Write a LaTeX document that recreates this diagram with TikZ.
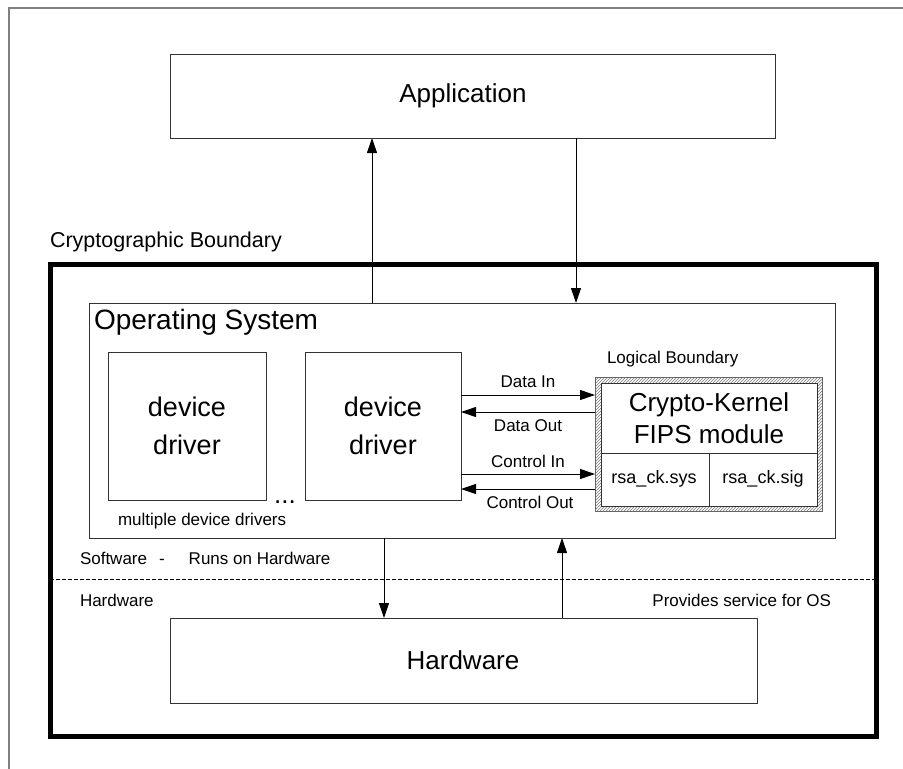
\documentclass[tikz,border=0pt]{standalone}
\usepackage{fontspec}
\setmainfont{Liberation Sans}
\usetikzlibrary{arrows.meta,patterns,calc}
\begin{document}
\begin{tikzpicture}[x=1pt,y=-1pt,
  box/.style={draw=black!80,line width=1pt,inner sep=0pt,outer sep=0pt,anchor=north west,align=center},
  big/.style={font=\fontsize{26}{32}\selectfont},
  mid/.style={font=\fontsize{21.5}{25}\selectfont},
  small/.style={font=\fontsize{17}{20}\selectfont},
  lbl/.style={inner sep=0pt,outer sep=0pt},
  arr/.style={draw=black,line width=1pt,-{Triangle[length=15pt,width=10pt]}},
]
\useasboundingbox (0,0) rectangle (903,769);
% outer frame (top and left edges only)
\draw[gray,line width=2pt] (9,769) -- (9,8) -- (903,8);

% application
\node[box,minimum width=605pt,minimum height=84pt] (app) at (170,54) {};
\node[lbl,big] (appl) at (463,96) {Application};

% cryptographic boundary
\node[lbl,mid,anchor=west] (cbl) at (50,242) {Cryptographic Boundary};
\node[draw=black,line width=5pt,inner sep=0pt,outer sep=0pt,anchor=north west,
      minimum width=826pt,minimum height=472pt] (cb) at (50,264) {};

% operating system
\node[box,minimum width=746pt,minimum height=235pt] (os) at (89,303) {};
\node[lbl,font=\fontsize{28}{32}\selectfont,anchor=west] (osl) at (94,322) {Operating System};

% device drivers
\node[box,font=\fontsize{27}{38}\selectfont,minimum width=158pt,minimum height=148pt] (dd1) at (108,352) {device\\driver};
\node[box,font=\fontsize{27}{38}\selectfont,minimum width=156pt,minimum height=148pt] (dd2) at (305,352) {device\\driver};
\node[lbl,big,anchor=base] (dots) at (285,503) {...};
\node[lbl,small,anchor=west] (mdd) at (118,521) {multiple device drivers};

% crypto module with logical boundary
\node[lbl,small,anchor=west] (lbl) at (607,359) {Logical Boundary};
\node[draw=black!60,line width=0.8pt,pattern=north east lines,pattern color=black!55,
      inner sep=0pt,outer sep=0pt,anchor=north west,minimum width=227pt,minimum height=134pt] (lb) at (595,377) {};
\node[box,fill=white,minimum width=216pt,minimum height=123pt] (ck) at (601,383) {};
\coordinate (divy) at (0,453);
\coordinate (divx) at (709,0);
\draw[black!80,line width=1pt] (ck.west |- divy) -- (ck.east |- divy);
\draw[black!80,line width=1pt] (divx |- divy) -- (divx |- ck.south);
\node[lbl,big,align=center] (ckl) at (709,418) {Crypto-Kernel\\FIPS module};
\node[lbl,font=\fontsize{18}{21}\selectfont] (sys) at (654,479) {rsa\_ck.sys};
\node[lbl,font=\fontsize{18}{21}\selectfont] (sig) at (763,479) {rsa\_ck.sig};

% data / control arrows
\coordinate (ydi) at (0,395);
\coordinate (ydo) at (0,412);
\coordinate (yci) at (0,474);
\coordinate (yco) at (0,489);
\draw[arr] (dd2.east |- ydi) -- (lb.west |- ydi);
\draw[arr] (lb.west |- ydo) -- (dd2.east |- ydo);
\draw[arr] (dd2.east |- yci) -- (lb.west |- yci);
\draw[arr] (lb.west |- yco) -- (dd2.east |- yco);
\node[lbl,small] (tdi) at (528,382) {Data In};
\node[lbl,small] (tdo) at (528,426) {Data Out};
\node[lbl,small] (tci) at (528,461) {Control In};
\node[lbl,small] (tco) at (530,502) {Control Out};

% app <-> os arrows
\coordinate (xa) at (372,0);
\coordinate (xb) at (576,0);
\draw[arr] (os.north -| xa) -- (app.south -| xa);
\draw[arr] (app.south -| xb) -- (os.north -| xb);

% software / hardware split
\node[lbl,small,anchor=west] (sw) at (80,558) {Software\hspace{12pt}-\hspace{24pt}Runs on Hardware};
\coordinate (dl) at (cb.west |- 0,579);
\coordinate (dr) at (cb.east |- 0,579);
\draw[black,line width=0.8pt,dash pattern=on 4pt off 2pt] (dl) -- (dr);
\node[lbl,small,anchor=west] (hwl) at (80,600) {Hardware};
\node[lbl,small,anchor=east] (psl) at (831,600) {Provides service for OS};

% hardware
\node[box,minimum width=587pt,minimum height=85pt] (hw) at (170,618) {};
\node[lbl,big] (hwt) at (463,660) {Hardware};
\coordinate (xc) at (384,0);
\coordinate (xd) at (562,0);
\draw[arr] (os.south -| xc) -- (hw.north -| xc);
\draw[arr] (hw.north -| xd) -- (os.south -| xd);
\end{tikzpicture}
\end{document}
